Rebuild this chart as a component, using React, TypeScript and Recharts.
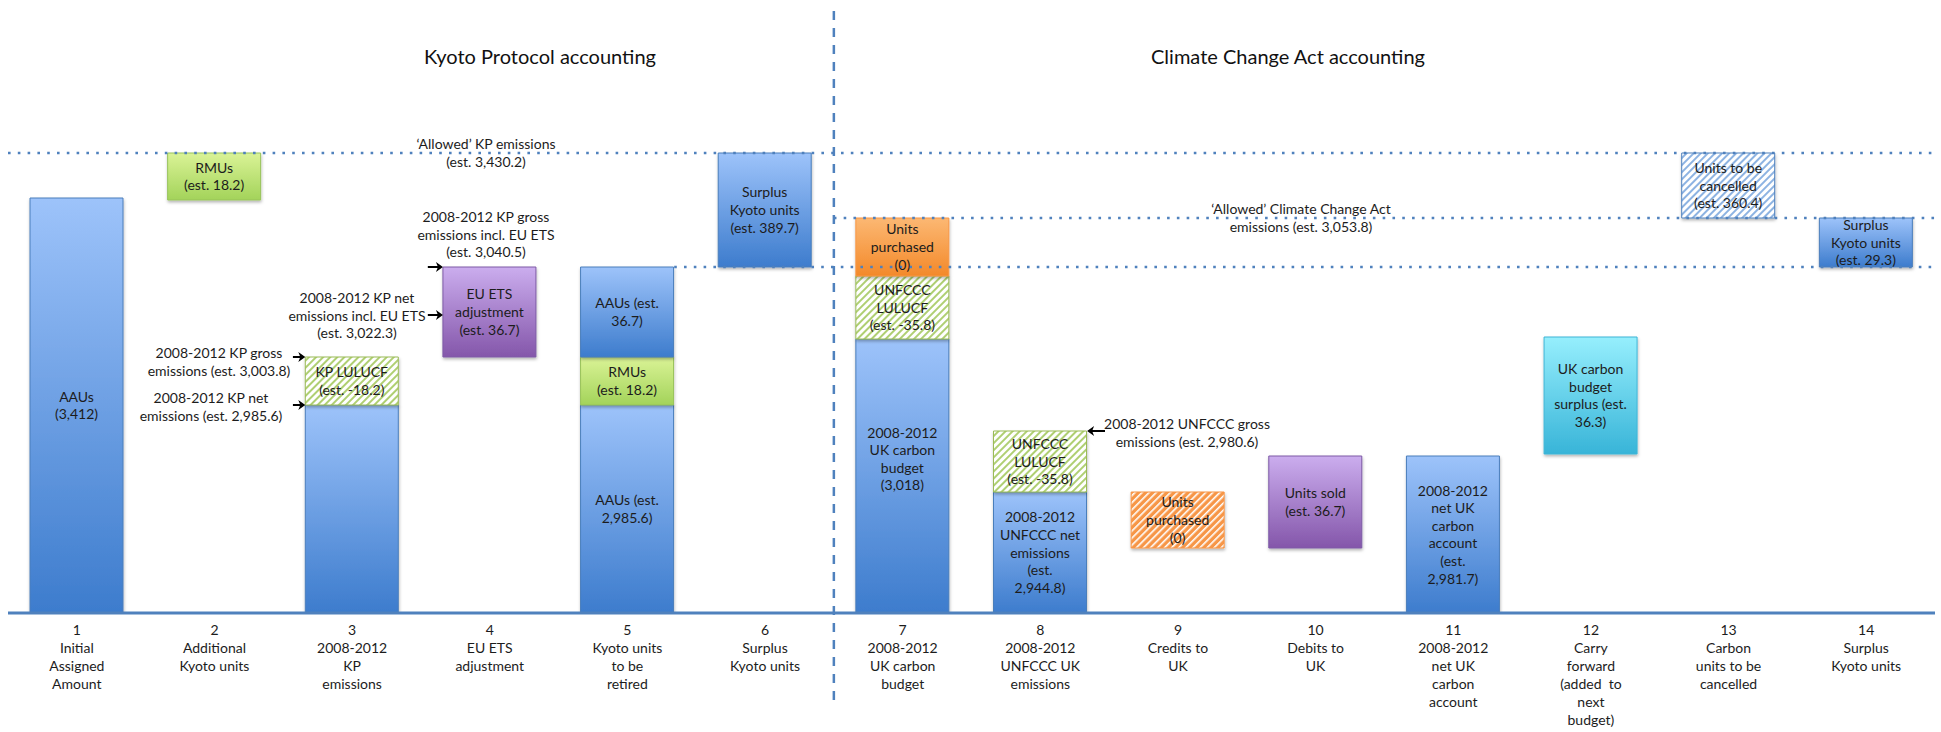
import React from "react";
import { Bar, BarChart, Cell, LabelList, ReferenceLine, XAxis, YAxis } from "recharts";

// schematic chart: bar heights are read off the picture (hidden axis, not to scale with the estimates)
const categories = ["1", "2", "3", "4", "5", "6", "7", "8", "9", "10", "11", "12", "13", "14"];
const tickLines = [
  ["Initial", "Assigned", "Amount"],
  ["Additional", "Kyoto units"],
  ["2008-2012", "KP", "emissions"],
  ["EU ETS", "adjustment"],
  ["Kyoto units", "to be", "retired"],
  ["Surplus", "Kyoto units"],
  ["2008-2012", "UK carbon", "budget"],
  ["2008-2012", "UNFCCC UK", "emissions"],
  ["Credits to", "UK"],
  ["Debits to", "UK"],
  ["2008-2012", "net UK", "carbon", "account"],
  ["Carry", "forward", "(added\u00a0 to", "next", "budget)"],
  ["Carbon", "units to be", "cancelled"],
  ["Surplus", "Kyoto units"],
];

// floating offset, then up to three stacked pieces
const baseLevel = [0, 413, 0, 256, 0, 346, 0, 0, 65, 65, 0, 159, 395, 346];
const seg1 = [415, 47, 208, 90, 208, 114, 274, 121, 56, 92, 157, 117, 65, 49];
const seg2 = [0, 0, 48, 0, 48, 0, 63, 61, 0, 0, 0, 0, 0, 0];
const seg3 = [0, 0, 0, 0, 90, 0, 58, 0, 0, 0, 0, 0, 0, 0];

const seg1Kind = ["aau", "rmu", "aau", "euets", "aau", "aau", "aau", "aau", "credit", "euets", "aau", "carry", "cancel", "aau"];
const seg2Kind = ["", "", "lulucf", "", "rmu", "", "lulucf", "lulucf", "", "", "", "", "", ""];
const seg3Kind = ["", "", "", "", "aau", "", "purchased", "", "", "", "", "", "", ""];

const seg1Label = [
  "AAUs\n(3,412)",
  "RMUs\n(est. 18.2)",
  "",
  "EU ETS\nadjustment\n(est. 36.7)",
  "AAUs (est.\n2,985.6)",
  "Surplus\nKyoto units\n(est. 389.7)",
  "2008-2012\nUK carbon\nbudget\n(3,018)",
  "2008-2012\nUNFCCC net\nemissions\n(est.\n2,944.8)",
  "Units\npurchased\n(0)",
  "Units sold\n(est. 36.7)",
  "2008-2012\nnet UK\ncarbon\naccount\n(est.\n2,981.7)",
  "UK carbon\nbudget\nsurplus (est.\n36.3)",
  "Units to be\ncancelled\n(est. 360.4)",
  "Surplus\nKyoto units\n(est. 29.3)",
];
const seg2Label = ["", "", "KP LULUCF\n(est. -18.2)", "", "RMUs\n(est. 18.2)", "", "UNFCCC\nLULUCF\n(est. -35.8)", "UNFCCC\nLULUCF\n(est. -35.8)", "", "", "", "", "", ""];
const seg3Label = ["", "", "", "", "AAUs (est.\n36.7)", "", "Units\npurchased\n(0)", "", "", "", "", "", "", ""];

// reference levels
const allowedKP = 460;
const allowedCCA = 395;
const retiredLevel = 346;
const divider = 6;

// arrows: level, from, to (on the 0..14 column scale)
const arrows = [
  { y: 346, from: 3.05, to: 3.16 },
  { y: 298, from: 3.05, to: 3.16 },
  { y: 256, from: 2.07, to: 2.16 },
  { y: 208, from: 2.07, to: 2.16 },
  { y: 182, from: 7.97, to: 7.84 },
];

const notes = [
  { cx: 486, cy: 144, lines: ["\u2018Allowed\u2019 KP emissions", "(est. 3,430.2)"] },
  { cx: 486, cy: 217, lines: ["2008-2012 KP gross", "emissions incl. EU ETS", "(est. 3,040.5)"] },
  { cx: 357, cy: 298, lines: ["2008-2012 KP net", "emissions incl. EU ETS", "(est. 3,022.3)"] },
  { cx: 219, cy: 353, lines: ["2008-2012 KP gross", "emissions (est. 3,003.8)"] },
  { cx: 211, cy: 398, lines: ["2008-2012 KP net", "emissions (est. 2,985.6)"] },
  { cx: 1187, cy: 424, lines: ["2008-2012 UNFCCC gross", "emissions (est. 2,980.6)"] },
  { cx: 1301, cy: 209, lines: ["\u2018Allowed\u2019 Climate Change Act", "emissions (est. 3,053.8)"] },
];

const FONT = "Lato, 'Open Sans', sans-serif";
const LH = 17.6;
// the budget label in column 7 sits a bit above the middle of its bar
const labelShift: Record<string, number> = { "7": -17 };

const kindStyle: Record<string, { fill: string; stroke: string }> = {
  aau: { fill: "url(#gBlue)", stroke: "#4A7EBB" },
  rmu: { fill: "url(#gGreen)", stroke: "#98C35A" },
  euets: { fill: "url(#gPurple)", stroke: "#7E5BA6" },
  lulucf: { fill: "url(#hGreen)", stroke: "#9BBB59" },
  purchased: { fill: "url(#gOrange)", stroke: "#F79646" },
  credit: { fill: "url(#hOrange)", stroke: "#F79646" },
  carry: { fill: "url(#gCyan)", stroke: "#3EB5D6" },
  cancel: { fill: "url(#hBlue)", stroke: "#4F81BD" },
};

const data = categories.map((c, i) => ({
  cat: c,
  base: baseLevel[i],
  s1: seg1[i],
  s2: seg2[i],
  s3: seg3[i],
  l1: seg1Label[i],
  l2: seg2Label[i],
  l3: seg3Label[i],
}));

function SegLabel(props: any) {
  const { x, y, width, height, value, shift } = props;
  if (!value) return null;
  const lines = String(value).split("\n");
  const cx = x + width / 2;
  const start = y + height / 2 - ((lines.length - 1) * LH) / 2 + (shift || 0);
  return (
    <text textAnchor="middle" fontFamily={FONT} fontSize={14} fill="#1c1c1c">
      {lines.map((l, k) => (
        <tspan key={k} x={cx} y={start + k * LH + 5}>
          {l}
        </tspan>
      ))}
    </text>
  );
}

function Tick(props: any) {
  const { x, y, payload } = props;
  const i = categories.indexOf(payload.value);
  const lines = [payload.value, ...(tickLines[i] || [])];
  return (
    <text textAnchor="middle" fontFamily={FONT} fontSize={14} fill="#1c1c1c">
      {lines.map((l, k) => (
        <tspan key={k} x={x} y={y + 22 + k * 18}>
          {l}
        </tspan>
      ))}
    </text>
  );
}

function Arrow(props: any) {
  const { x1, y1, x2, y2 } = props;
  const dir = x2 > x1 ? 1 : -1;
  return (
    <g>
      <line x1={x1} y1={y1} x2={x2 - dir * 4} y2={y2} stroke="#000" strokeWidth={2} />
      <polygon points={`${x2},${y2} ${x2 - dir * 7},${y2 - 5} ${x2 - dir * 5},${y2} ${x2 - dir * 7},${y2 + 5}`} fill="#000" />
    </g>
  );
}

function grad(id: string, top: string, bottom: string) {
  return (
    <linearGradient id={id} x1="0" y1="0" x2="0" y2="1">
      <stop offset="0%" stopColor={top} />
      <stop offset="100%" stopColor={bottom} />
    </linearGradient>
  );
}

function hatch(id: string, bg: string, stripe: string, w: number) {
  return (
    <pattern id={id} patternUnits="userSpaceOnUse" width={5} height={5} patternTransform="rotate(45)">
      <rect width={5} height={5} fill={bg} />
      <rect width={w} height={5} fill={stripe} />
    </pattern>
  );
}

function segCells(kinds: string[]) {
  return kinds.map((k, i) => {
    const s = kindStyle[k];
    return s ? (
      <Cell key={i} fill={s.fill} stroke={s.stroke} strokeWidth={1} filter="url(#shadow)" />
    ) : (
      <Cell key={i} fill="none" stroke="none" />
    );
  });
}

const dotted = { stroke: "#4F81BD", strokeWidth: 2.5, strokeDasharray: "2.6 7.2" };

export default function App() {
  return (
    <div style={{ position: "absolute", left: 0, top: 0, width: 1941, height: 732, background: "#fff" }}>
      <BarChart width={1941} height={732} data={data} margin={{ top: 0, right: 6, bottom: 0, left: 8 }} barSize={93}>
        <defs>
          {grad("gBlue", "#9DC3FA", "#3D7CCD")}
          {grad("gGreen", "#DAF396", "#A3D35A")}
          {grad("gPurple", "#CBADEE", "#8456AA")}
          {grad("gOrange", "#FCB873", "#F3892A")}
          {grad("gCyan", "#96EFFD", "#38B4D8")}
          {hatch("hGreen", "#FFFFFF", "#AFCF72", 2)}
          {hatch("hOrange", "#F79646", "#FFFFFF", 1.6)}
          {hatch("hBlue", "#FFFFFF", "#8DB3E2", 2)}
          <filter id="shadow" x="-10%" y="-10%" width="125%" height="130%">
            <feDropShadow dx="0.5" dy="2" stdDeviation="1.5" floodColor="#000" floodOpacity="0.28" />
          </filter>
        </defs>
        <XAxis
          xAxisId="cat"
          dataKey="cat"
          height={119}
          interval={0}
          tickLine={false}
          tickSize={0}
          tickMargin={0}
          axisLine={{ stroke: "#4F81BD", strokeWidth: 3 }}
          tick={<Tick />}
        />
        {/* hidden column scale 0..14 used to place the guide lines and arrows */}
        <XAxis xAxisId="num" dataKey="slot" type="number" scale="linear" domain={[0, 14]} hide allowDataOverflow />
        <YAxis type="number" domain={[0, 613]} hide allowDataOverflow />

        <ReferenceLine xAxisId="num" y={allowedKP} {...dotted} />
        <ReferenceLine xAxisId="num" segment={[{ x: divider, y: allowedCCA }, { x: 14, y: allowedCCA }]} {...dotted} />
        <ReferenceLine xAxisId="num" segment={[{ x: 4.84, y: retiredLevel }, { x: 14, y: retiredLevel }]} {...dotted} />

        <Bar xAxisId="cat" dataKey="base" stackId="s" fill="none" isAnimationActive={false} />
        <Bar xAxisId="cat" dataKey="s1" stackId="s" isAnimationActive={false}>
          {segCells(seg1Kind)}
          <LabelList
            dataKey="l1"
            content={(p: any) => <SegLabel {...p} shift={labelShift[categories[p.index]] || 0} />}
          />
        </Bar>
        <Bar xAxisId="cat" dataKey="s2" stackId="s" isAnimationActive={false}>
          {segCells(seg2Kind)}
          <LabelList dataKey="l2" content={<SegLabel />} />
        </Bar>
        <Bar xAxisId="cat" dataKey="s3" stackId="s" isAnimationActive={false}>
          {segCells(seg3Kind)}
          <LabelList dataKey="l3" content={<SegLabel />} />
        </Bar>

        <ReferenceLine
          xAxisId="num"
          segment={[{ x: divider, y: -87 }, { x: divider, y: 606 }]}
          ifOverflow="visible"
          stroke="#4F81BD"
          strokeWidth={2.5}
          strokeDasharray="9 8"
        />
        {arrows.map((a, i) => (
          <ReferenceLine
            key={i}
            xAxisId="num"
            segment={[{ x: a.from, y: a.y }, { x: a.to, y: a.y }]}
            ifOverflow="visible"
            shape={<Arrow />}
          />
        ))}
      </BarChart>

      <div style={{ position: "absolute", left: 540, top: 44, transform: "translateX(-50%)", fontFamily: FONT, fontSize: 20, color: "#111", whiteSpace: "nowrap" }}>
        Kyoto Protocol accounting
      </div>
      <div style={{ position: "absolute", left: 1288, top: 44, transform: "translateX(-50%)", fontFamily: FONT, fontSize: 20, color: "#111", whiteSpace: "nowrap" }}>
        Climate Change Act accounting
      </div>
      {notes.map((n, i) => (
        <div
          key={i}
          style={{
            position: "absolute",
            left: n.cx,
            top: n.cy - LH / 2,
            transform: "translateX(-50%)",
            fontFamily: FONT,
            fontSize: 14,
            lineHeight: `${LH}px`,
            color: "#1c1c1c",
            textAlign: "center",
            whiteSpace: "pre",
          }}
        >
          {n.lines.join("\n")}
        </div>
      ))}
    </div>
  );
}
